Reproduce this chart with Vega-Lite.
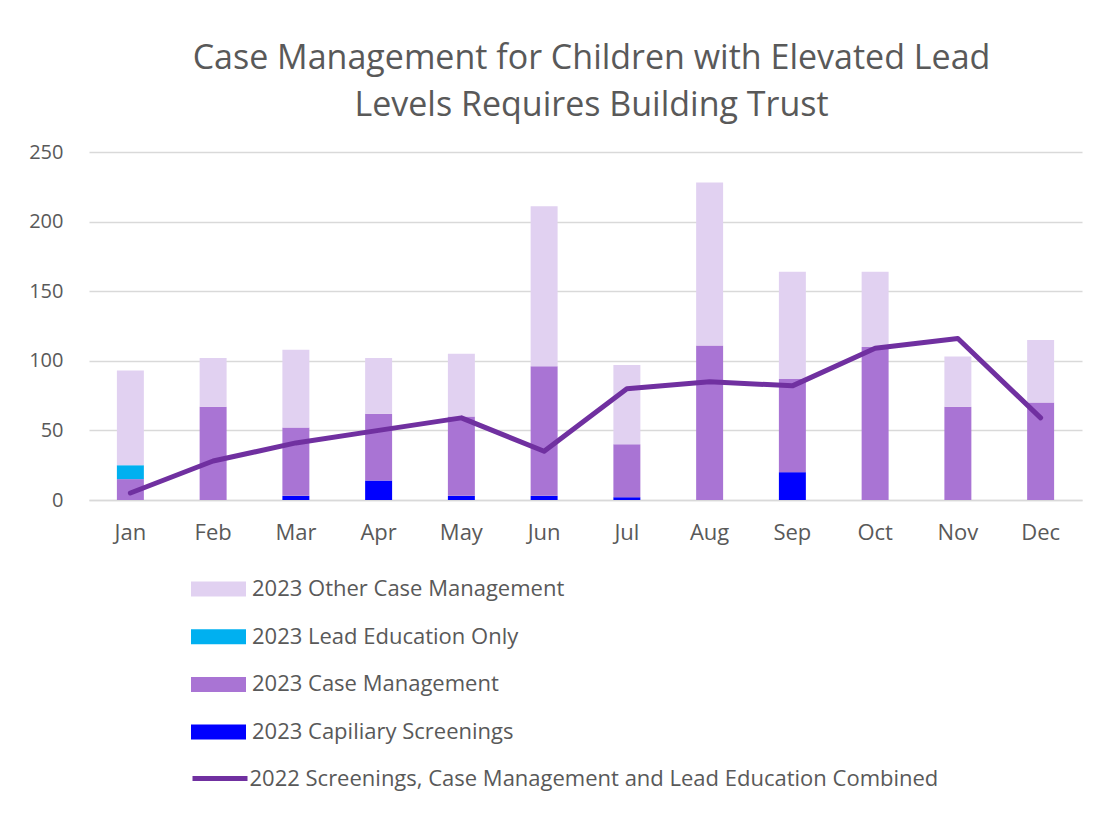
{
  "$schema": "https://vega.github.io/schema/vega-lite/v6.json",
  "autosize": {"type": "none"},
  "padding": {"left": 89, "top": 152, "right": 28, "bottom": 315},
  "width": 993,
  "height": 348,
  "background": "white",
  "config": {
    "font": "Open Sans",
    "view": {"stroke": null}
  },
  "title": {
    "text": ["Case Management for Children with Elevated Lead", "Levels Requires Building Trust"],
    "fontSize": 34,
    "fontWeight": "normal",
    "color": "#595959",
    "anchor": "middle",
    "offset": 19,
    "dx": 6,
    "lineHeight": 47
  },
  "datasets": {
    "barData": [
      {"month": "Jan", "series": "2023 Capiliary Screenings", "value": 0},
      {"month": "Jan", "series": "2023 Case Management", "value": 15},
      {"month": "Jan", "series": "2023 Lead Education Only", "value": 10},
      {"month": "Jan", "series": "2023 Other Case Management", "value": 68},
      {"month": "Feb", "series": "2023 Capiliary Screenings", "value": 0},
      {"month": "Feb", "series": "2023 Case Management", "value": 67},
      {"month": "Feb", "series": "2023 Lead Education Only", "value": 0},
      {"month": "Feb", "series": "2023 Other Case Management", "value": 35},
      {"month": "Mar", "series": "2023 Capiliary Screenings", "value": 3},
      {"month": "Mar", "series": "2023 Case Management", "value": 49},
      {"month": "Mar", "series": "2023 Lead Education Only", "value": 0},
      {"month": "Mar", "series": "2023 Other Case Management", "value": 56},
      {"month": "Apr", "series": "2023 Capiliary Screenings", "value": 14},
      {"month": "Apr", "series": "2023 Case Management", "value": 48},
      {"month": "Apr", "series": "2023 Lead Education Only", "value": 0},
      {"month": "Apr", "series": "2023 Other Case Management", "value": 40},
      {"month": "May", "series": "2023 Capiliary Screenings", "value": 3},
      {"month": "May", "series": "2023 Case Management", "value": 57},
      {"month": "May", "series": "2023 Lead Education Only", "value": 0},
      {"month": "May", "series": "2023 Other Case Management", "value": 45},
      {"month": "Jun", "series": "2023 Capiliary Screenings", "value": 3},
      {"month": "Jun", "series": "2023 Case Management", "value": 93},
      {"month": "Jun", "series": "2023 Lead Education Only", "value": 0},
      {"month": "Jun", "series": "2023 Other Case Management", "value": 115},
      {"month": "Jul", "series": "2023 Capiliary Screenings", "value": 2},
      {"month": "Jul", "series": "2023 Case Management", "value": 38},
      {"month": "Jul", "series": "2023 Lead Education Only", "value": 0},
      {"month": "Jul", "series": "2023 Other Case Management", "value": 57},
      {"month": "Aug", "series": "2023 Capiliary Screenings", "value": 0},
      {"month": "Aug", "series": "2023 Case Management", "value": 111},
      {"month": "Aug", "series": "2023 Lead Education Only", "value": 0},
      {"month": "Aug", "series": "2023 Other Case Management", "value": 117},
      {"month": "Sep", "series": "2023 Capiliary Screenings", "value": 20},
      {"month": "Sep", "series": "2023 Case Management", "value": 67},
      {"month": "Sep", "series": "2023 Lead Education Only", "value": 0},
      {"month": "Sep", "series": "2023 Other Case Management", "value": 77},
      {"month": "Oct", "series": "2023 Capiliary Screenings", "value": 0},
      {"month": "Oct", "series": "2023 Case Management", "value": 110},
      {"month": "Oct", "series": "2023 Lead Education Only", "value": 0},
      {"month": "Oct", "series": "2023 Other Case Management", "value": 54},
      {"month": "Nov", "series": "2023 Capiliary Screenings", "value": 0},
      {"month": "Nov", "series": "2023 Case Management", "value": 67},
      {"month": "Nov", "series": "2023 Lead Education Only", "value": 0},
      {"month": "Nov", "series": "2023 Other Case Management", "value": 36},
      {"month": "Dec", "series": "2023 Capiliary Screenings", "value": 0},
      {"month": "Dec", "series": "2023 Case Management", "value": 70},
      {"month": "Dec", "series": "2023 Lead Education Only", "value": 0},
      {"month": "Dec", "series": "2023 Other Case Management", "value": 45}
    ],
    "lineData": [
      {"month": "Jan", "series": "2022 Screenings, Case Management and Lead Education Combined", "value": 5},
      {"month": "Feb", "series": "2022 Screenings, Case Management and Lead Education Combined", "value": 28},
      {"month": "Mar", "series": "2022 Screenings, Case Management and Lead Education Combined", "value": 41},
      {"month": "Apr", "series": "2022 Screenings, Case Management and Lead Education Combined", "value": 50},
      {"month": "May", "series": "2022 Screenings, Case Management and Lead Education Combined", "value": 59},
      {"month": "Jun", "series": "2022 Screenings, Case Management and Lead Education Combined", "value": 35},
      {"month": "Jul", "series": "2022 Screenings, Case Management and Lead Education Combined", "value": 80},
      {"month": "Aug", "series": "2022 Screenings, Case Management and Lead Education Combined", "value": 85},
      {"month": "Sep", "series": "2022 Screenings, Case Management and Lead Education Combined", "value": 82},
      {"month": "Oct", "series": "2022 Screenings, Case Management and Lead Education Combined", "value": 109},
      {"month": "Nov", "series": "2022 Screenings, Case Management and Lead Education Combined", "value": 116},
      {"month": "Dec", "series": "2022 Screenings, Case Management and Lead Education Combined", "value": 59}
    ]
  },
  "layer": [
    {
      "data": {"name": "barData"},
      "mark": {"type": "bar"},
      "encoding": {
        "x": {
          "field": "month",
          "type": "nominal",
          "sort": ["Jan", "Feb", "Mar", "Apr", "May", "Jun", "Jul", "Aug", "Sep", "Oct", "Nov", "Dec"],
          "scale": {"paddingInner": 0.674, "paddingOuter": 0.337},
          "axis": {
            "title": null,
            "labelAngle": 0,
            "labelFontSize": 22,
            "labelColor": "#595959",
            "labelPadding": 22,
            "ticks": false,
            "domain": true,
            "domainColor": "#D9D9D9",
            "domainWidth": 1.5
          }
        },
        "y": {
          "field": "value",
          "type": "quantitative",
          "stack": "zero",
          "scale": {"domain": [0, 250], "nice": false},
          "axis": {
            "title": null,
            "values": [0, 50, 100, 150, 200, 250],
            "labelFontSize": 20,
            "labelColor": "#595959",
            "labelPadding": 26,
            "ticks": false,
            "domain": false,
            "gridColor": "#D9D9D9",
            "gridWidth": 1.5
          }
        },
        "order": {"field": "series", "type": "ordinal", "sort": "ascending"},
        "fill": {
          "field": "series",
          "type": "nominal",
          "scale": {
            "domain": ["2023 Other Case Management", "2023 Lead Education Only", "2023 Case Management", "2023 Capiliary Screenings"],
            "range": ["#E1D1F1", "#00B0F0", "#A974D4", "#0000FF"]
          },
          "legend": {
            "title": null,
            "orient": "none",
            "legendX": 118.5,
            "legendY": 426,
            "direction": "vertical",
            "symbolType": "M-2.75,-0.75H2.75V0.75H-2.75Z",
            "symbolSize": 400,
            "symbolStrokeWidth": 0,
            "labelFontSize": 22,
            "labelColor": "#595959",
            "labelLimit": 1000,
            "labelOffset": 22.5,
            "rowPadding": 25.7
          }
        }
      }
    },
    {
      "data": {"name": "lineData"},
      "mark": {"type": "line", "strokeWidth": 5, "strokeCap": "round", "strokeJoin": "round"},
      "encoding": {
        "x": {"field": "month", "type": "nominal", "sort": ["Jan", "Feb", "Mar", "Apr", "May", "Jun", "Jul", "Aug", "Sep", "Oct", "Nov", "Dec"]},
        "y": {"field": "value", "type": "quantitative", "scale": {"domain": [0, 250], "nice": false}},
        "stroke": {
          "field": "series",
          "type": "nominal",
          "scale": {"range": ["#7030A0"]},
          "legend": {
            "title": null,
            "orient": "none",
            "legendX": 118.5,
            "legendY": 614,
            "symbolType": "M-2.75,0H2.75",
            "symbolSize": 400,
            "symbolStrokeWidth": 5,
            "labelFontSize": 22,
            "labelColor": "#595959",
            "labelLimit": 1000,
            "labelOffset": 17
          }
        }
      }
    }
  ]
}
